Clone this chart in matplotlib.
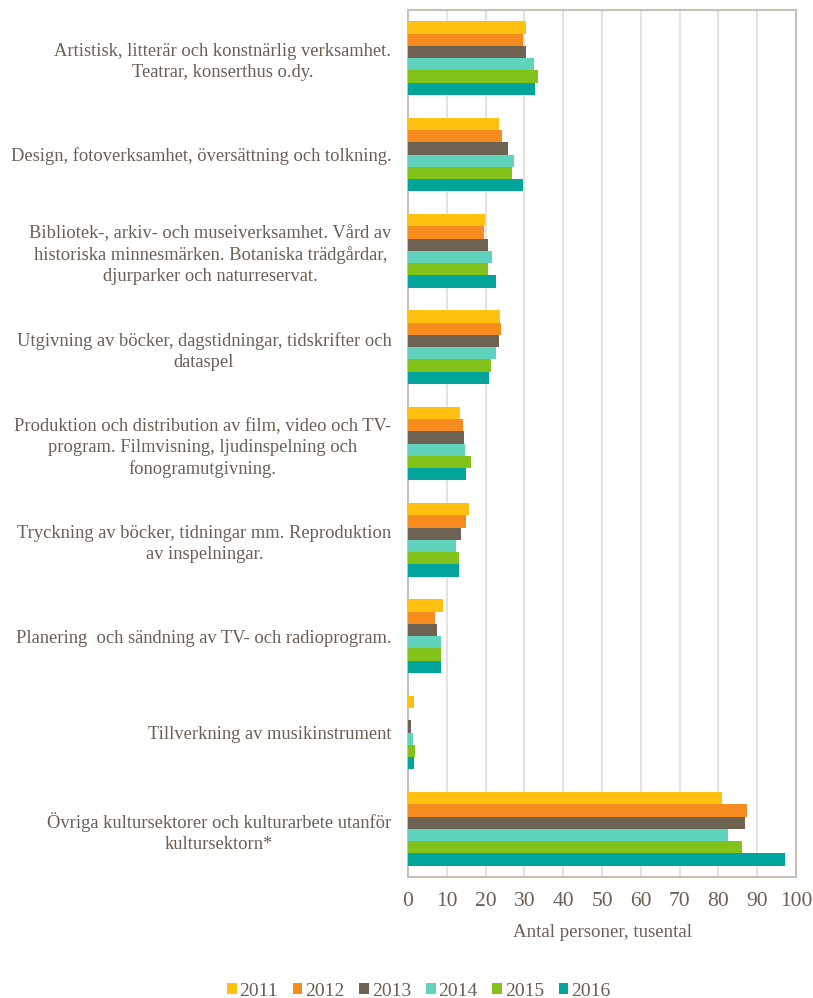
import numpy as np
import matplotlib.pyplot as plt

# ---- data
kategorier = [
    "Artistisk, litterär och konstnärlig verksamhet.\nTeatrar, konserthus o.dy.",
    "Design, fotoverksamhet, översättning och tolkning.",
    "Bibliotek-, arkiv- och museiverksamhet. Vård av\nhistoriska minnesmärken. Botaniska trädgårdar,\ndjurparker och naturreservat.",
    "Utgivning av böcker, dagstidningar, tidskrifter och\ndataspel",
    "Produktion och distribution av film, video och TV-\nprogram. Filmvisning, ljudinspelning och\nfonogramutgivning.",
    "Tryckning av böcker, tidningar mm. Reproduktion\nav inspelningar.",
    "Planering  och sändning av TV- och radioprogram.",
    "Tillverkning av musikinstrument",
    "Övriga kultursektorer och kulturarbete utanför\nkultursektorn*",
]
ar = ["2011", "2012", "2013", "2014", "2015", "2016"]

v2011 = [30.4, 23.5, 19.9, 23.6, 13.3, 15.6, 8.9, 1.6, 81.0]
v2012 = [29.7, 24.1, 19.6, 24.0, 14.3, 14.9, 7.0, 0.0, 87.3]
v2013 = [30.4, 25.7, 20.6, 23.5, 14.5, 13.6, 7.4, 0.9, 86.9]
v2014 = [32.4, 27.2, 21.6, 22.6, 14.8, 12.4, 8.4, 1.4, 82.6]
v2015 = [33.4, 26.7, 20.5, 21.5, 16.2, 13.1, 8.6, 1.8, 86.2]
v2016 = [32.7, 29.6, 22.6, 21.0, 15.0, 13.2, 8.6, 1.5, 97.1]
serier = [v2011, v2012, v2013, v2014, v2015, v2016]

farger = ["#FFC010", "#F68B1F", "#6E6253", "#5FD3BC", "#82C21A", "#00A49A"]

# ---- figur
plt.rcParams['font.family'] = ['Liberation Serif', 'DejaVu Serif']
textfarg = "#6b5e55"

fig = plt.figure(figsize=(8.13, 9.98), dpi=100)
ax = fig.add_axes([408/813, 1-877/998, 388/813, 867/998])

y = np.arange(len(kategorier))
h = 0.128
for i in range(len(ar)):
    ax.barh(y - 2.5*h + i*h, serier[i], height=h, color=farger[i], label=ar[i], zorder=3)

ax.set_ylim(len(kategorier)-0.5, -0.5)
ax.set_xlim(0, 100)
ax.set_xticks(range(0, 101, 10))
ax.set_yticks(y)
ax.set_yticklabels(kategorier, multialignment="center", fontsize=13.3, color=textfarg,
                   linespacing=1.3)
ax.tick_params(axis="y", length=0, pad=12)
ax.tick_params(axis="x", length=0, pad=11, labelsize=15.5, colors=textfarg)
ax.grid(axis="x", color="#e6e2df", linewidth=1.5, zorder=0)
for s in ax.spines.values():
    s.set_color("#c8c0b8")
    s.set_linewidth(1.5)

ax.set_xlabel("Antal personer, tusental", fontsize=13.6, color=textfarg, labelpad=9)

leg = fig.legend(loc="center", ncol=6, bbox_to_anchor=(0.515, 1-991/998), frameon=False,
                 fontsize=14, handlelength=0.5, handleheight=0.5, handletextpad=0.15,
                 columnspacing=0.75)
for t in leg.get_texts():
    t.set_color(textfarg)

plt.savefig("out.png", dpi=100)
